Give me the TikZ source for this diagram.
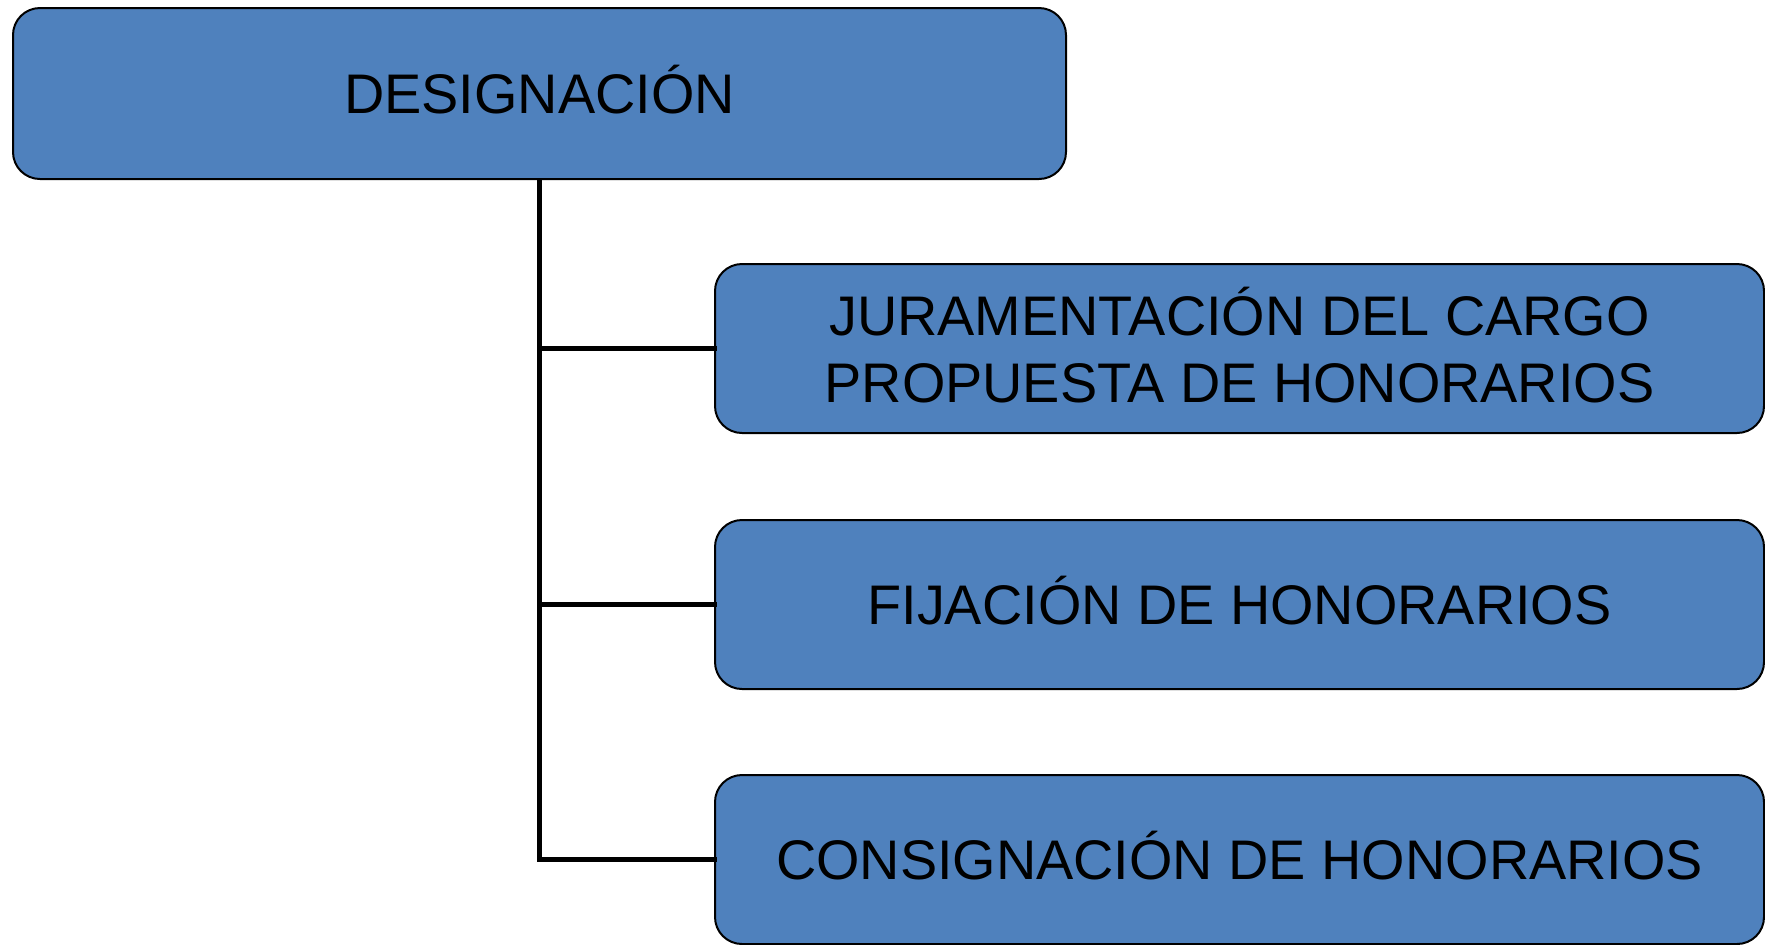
\documentclass[tikz,border=0pt]{standalone}
\usepackage{fontspec}
\setmainfont{Liberation Sans}
\definecolor{boxblue}{HTML}{4F81BD}
\begin{document}
\begin{tikzpicture}[x=0.5pt, y=-0.5pt,
    box/.style={draw=black, line width=1pt, fill=boxblue, rounded corners=13.5pt,
      inner sep=0pt, align=center, minimum height=84.5pt,
      text height=20pt, text depth=0pt,
      font=\fontsize{27.9}{33.5}\selectfont},
    link/.style={line width=2.5pt, line cap=rect}]
            \useasboundingbox (0,0) rectangle (1765,944);
            % The top box and the three steps under it
            \node [box, minimum width=526.5pt, minimum height=85.5pt] (desig) at (539.5,93.5) {DESIGNACIÓN};
            \node [box, minimum width=524.5pt, text height=53.5pt] (jura) at (1239.5,348.5)
              {JURAMENTACIÓN DEL CARGO\\PROPUESTA DE HONORARIOS};
            \node [box, minimum width=524.5pt] (fija) at (1239.5,604.5) {FIJACIÓN DE HONORARIOS};
            \node [box, minimum width=524.5pt] (consig) at (1239.5,859.5) {CONSIGNACIÓN DE HONORARIOS};
            % The trunk and its branches
            \draw [link, line cap=butt] (desig.south) -- (desig.south |- consig.west);
            \foreach \n in {jura, fija, consig} {
              \draw [link] (desig.south |- \n.west) -- (\n.west);
            }
        \end{tikzpicture}
\end{document}
